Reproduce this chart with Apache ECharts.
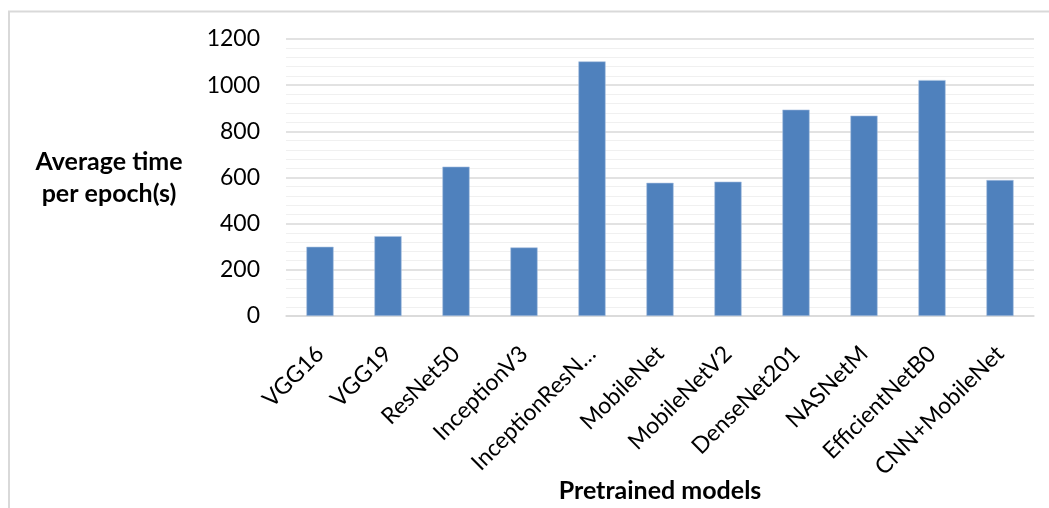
<!DOCTYPE html>
<html>
<head>
<meta charset="utf-8">
<script src="https://cdn.jsdelivr.net/npm/echarts@6/dist/echarts.min.js"></script>
<style>
  html, body { margin: 0; padding: 0; background: #ffffff; }
  #chart { width: 1049px; height: 508px; }
</style>
</head>
<body>
<div id="chart"></div>
<script>
// Training cost of each pretrained model
const models = ['VGG16', 'VGG19', 'ResNet50', 'InceptionV3', 'InceptionResN…', 'MobileNet',
  'MobileNetV2', 'DenseNet201', 'NASNetM', 'EfficientNetB0', 'CNN+MobileNet'];
const avgEpochTime = [300, 346, 647, 297, 1103, 577, 582, 894, 868, 1022, 589];
const yTicks = [0, 200, 400, 600, 800, 1000, 1200];

const FONT = 'Lato, "Open Sans", sans-serif';
const chart = echarts.init(document.getElementById('chart'), null, { renderer: 'canvas' });

chart.setOption({
  animation: false,
  backgroundColor: '#ffffff',
  graphic: [
    {
      type: 'polyline',
      shape: { points: [[9, 520], [9, 11.5], [1060, 11.5]] },
      style: { stroke: '#d9d9d9', lineWidth: 2, fill: null },
      silent: true
    },
    {
      type: 'text',
      x: 109,
      y: 178,
      style: {
        text: 'Average time\nper epoch(s)',
        font: 'bold 25px ' + FONT,
        fill: '#000000',
        align: 'center',
        verticalAlign: 'middle',
        lineHeight: 32
      },
      silent: true
    }
  ],
  grid: { left: 286, right: 15, top: 39, bottom: 192, containLabel: false, outerBoundsMode: 'none' },
  xAxis: {
    type: 'category',
    data: models,
    name: 'Pretrained models',
    nameLocation: 'middle',
    nameGap: 162,
    nameMoveOverlap: false,
    nameTextStyle: { fontFamily: FONT, fontWeight: 'bold', fontSize: 25, color: '#000000' },
    axisLine: { show: true, lineStyle: { color: '#d9d9d9', width: 1.5 } },
    axisTick: { show: false },
    axisLabel: {
      interval: 0,
      rotate: 45,
      margin: 34,
      fontFamily: FONT,
      fontSize: 23,
      color: '#000000'
    }
  },
  yAxis: {
    type: 'value',
    min: yTicks[0],
    max: yTicks[yTicks.length - 1],
    interval: 200,
    minorTick: { show: false, splitNumber: 5 },
    minorSplitLine: { show: true, lineStyle: { color: '#f0f0f0', width: 1 } },
    splitLine: { show: true, lineStyle: { color: '#d9d9d9', width: 1.5 } },
    axisLine: { show: false },
    axisTick: { show: false },
    axisLabel: {
      margin: 26,
      fontFamily: FONT,
      fontSize: 23,
      color: '#000000',
      formatter: v => String(v)
    }
  },
  series: [{
    type: 'bar',
    data: avgEpochTime,
    barWidth: '40%',
    itemStyle: { color: '#4f81bd', borderColor: '#a9c1e0', borderWidth: 0.6 }
  }]
});
</script>
</body>
</html>
